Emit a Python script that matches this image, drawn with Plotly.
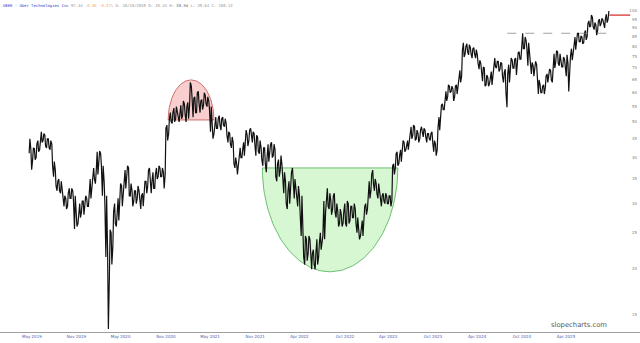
import numpy as np
import pandas as pd
import plotly.graph_objects as go

# ---------------- data (weekly low / high) ----------------
low_2019 = [41.1, 37.1, 39.5, 39.5, 40.0, 41.5, 42.0, 44.0, 44.5, 43.0, 42.5, 42.5, 42.0, 38.0, 35.5, 33.5, 32.5,
            32.5, 32.0, 30.5, 29.5, 29.0, 29.5, 31.0, 31.0, 30.5, 25.6, 26.0, 26.5, 27.5, 28.5, 28.0, 29.5, 29.5]
high_2019 = [45.0, 42.0, 42.5, 42.3, 43.5, 44.5, 45.5, 47.0, 46.5, 46.0, 45.0, 45.0, 44.5, 43.5, 39.0, 37.0, 34.5,
             35.0, 34.5, 32.8, 31.5, 31.0, 32.0, 33.0, 33.0, 32.5, 31.5, 28.0, 28.5, 30.0, 30.5, 30.5, 31.5, 31.0]

low_2020 = [29.5, 31.0, 34.0, 35.0, 34.0, 36.0, 39.5, 38.0, 31.5, 30.0, 21.5, 13.7, 19.0, 20.5, 23.0, 26.5, 26.0,
            27.0, 30.0, 29.5, 32.0, 33.0, 35.0, 31.5, 31.5, 29.5, 30.5, 30.0, 31.0, 31.0, 29.0, 29.5, 32.0, 32.0,
            33.5, 33.5, 32.0, 33.0, 33.0, 35.0, 35.5, 35.5, 35.5, 33.0, 36.0, 44.5, 46.5, 50.0, 49.5, 50.0, 51.0, 50.5]
high_2020 = [31.5, 35.0, 36.5, 37.5, 36.5, 41.5, 41.7, 41.0, 38.0, 34.5, 31.5, 22.0, 25.5, 25.0, 28.5, 30.0, 29.0,
             31.0, 34.0, 33.5, 35.0, 37.0, 38.0, 37.5, 34.0, 32.5, 32.5, 32.5, 33.5, 32.5, 31.5, 32.0, 34.5, 34.5,
             37.0, 37.5, 34.5, 36.5, 36.0, 37.5, 38.0, 37.5, 37.5, 36.5, 48.0, 49.0, 51.0, 53.0, 53.0, 54.5, 55.0, 53.0]

low_2021 = [50.0, 51.0, 52.0, 52.5, 50.0, 51.0, 55.5, 58.0, 51.5, 53.0, 53.0, 56.0, 53.0, 54.0, 55.5, 56.0, 55.0,
            54.0, 47.0, 45.0, 46.5, 48.0, 48.0, 49.0, 47.5, 49.0, 48.5, 46.0, 44.0, 43.5, 42.5, 38.5, 37.5, 36.0,
            38.0, 40.0, 40.0, 40.5, 43.5, 43.0, 44.5, 45.0, 44.0, 43.5, 40.5, 41.5, 41.0, 39.5, 38.0, 38.5, 36.5,
            39.0, 41.5]
high_2021 = [52.5, 55.5, 57.0, 56.0, 55.0, 56.5, 64.0, 62.5, 58.0, 58.5, 60.0, 60.5, 57.0, 57.5, 60.0, 59.0, 58.5,
             57.0, 55.0, 49.0, 49.5, 51.5, 51.0, 52.0, 51.0, 51.5, 51.0, 49.5, 47.0, 46.5, 45.5, 44.0, 40.0, 38.5,
             41.0, 42.5, 42.0, 44.0, 47.5, 46.0, 47.5, 48.0, 47.0, 46.5, 46.0, 45.5, 44.5, 42.5, 42.5, 42.5, 40.0,
             43.5, 43.5]

low_2022 = [40.0, 40.5, 35.5, 34.5, 35.5, 37.0, 34.0, 32.0, 30.0, 29.0, 30.0, 34.0, 34.5, 31.0, 30.5, 29.5, 28.0,
            24.5, 21.5, 20.5, 21.0, 22.0, 21.5, 19.9, 20.5, 19.9, 20.5, 21.5, 22.5, 23.5, 24.0, 28.5, 29.5, 29.0,
            28.0, 29.0, 28.5, 27.5, 26.0, 26.5, 26.0, 26.5, 26.5, 26.0, 26.5, 27.0, 27.5, 27.5, 26.5, 25.0, 24.0,
            24.5]
high_2022 = [44.0, 43.5, 42.0, 38.5, 39.5, 40.5, 38.0, 36.5, 34.5, 32.5, 34.5, 36.5, 37.5, 35.0, 33.0, 33.5, 31.5,
             31.5, 25.5, 24.5, 24.0, 24.5, 24.0, 22.0, 22.5, 22.0, 24.0, 23.5, 25.0, 24.5, 30.5, 31.0, 33.0, 32.0,
             30.5, 31.5, 32.0, 30.0, 28.5, 29.0, 28.0, 28.5, 30.0, 30.5, 30.0, 29.5, 29.5, 30.0, 29.0, 27.5, 26.0,
             25.5]

low_2023 = [24.5, 26.5, 28.0, 29.0, 31.0, 32.5, 34.0, 32.5, 32.0, 31.0, 30.0, 29.5, 30.5, 30.0, 30.0, 30.0, 29.5,
            30.5, 36.0, 37.5, 38.0, 38.5, 39.0, 41.5, 41.5, 42.0, 42.0, 44.0, 45.0, 46.0, 44.5, 45.0, 44.0, 45.0,
            47.0, 45.5, 45.5, 44.0, 45.0, 44.5, 44.0, 41.5, 40.5, 42.0, 47.5, 51.0, 54.0, 54.0, 57.0, 58.5, 60.0,
            60.5]
high_2023 = [27.0, 29.5, 30.0, 31.5, 34.5, 36.0, 37.0, 35.0, 34.0, 34.0, 32.0, 31.5, 32.0, 32.0, 31.5, 31.5, 31.5,
             38.0, 38.5, 41.0, 41.5, 40.5, 42.0, 44.5, 44.0, 43.5, 44.5, 47.0, 48.5, 49.0, 48.5, 47.5, 46.5, 47.5,
             48.5, 48.0, 47.5, 46.5, 46.5, 46.5, 47.0, 44.5, 43.5, 48.0, 51.5, 55.5, 56.0, 58.0, 60.5, 63.0, 62.5,
             62.5]

low_2024 = [57.0, 58.5, 59.5, 62.5, 64.0, 66.5, 75.0, 76.5, 77.5, 76.0, 76.5, 74.5, 76.5, 74.5, 72.0, 69.5, 68.5,
            64.5, 62.5, 63.0, 62.5, 63.5, 63.0, 68.0, 70.5, 70.0, 68.5, 69.5, 66.5, 64.0, 60.0, 54.8, 64.0, 70.0,
            70.0, 70.0, 67.0, 72.5, 74.0, 74.0, 79.0, 79.0, 79.0, 71.0, 70.0, 67.5, 66.5, 70.0, 64.5, 59.5, 60.0,
            60.0]
high_2024 = [61.5, 62.5, 63.0, 67.0, 69.0, 78.0, 82.0, 80.0, 81.5, 81.0, 79.5, 79.0, 79.5, 78.5, 76.0, 73.5, 72.0,
             70.5, 70.0, 67.0, 66.0, 65.5, 68.5, 72.5, 74.5, 73.0, 73.0, 72.5, 72.0, 68.0, 69.5, 67.5, 71.5, 74.5,
             73.5, 74.0, 74.5, 77.0, 77.5, 82.0, 87.0, 85.0, 83.0, 82.0, 75.5, 72.5, 71.0, 73.0, 71.5, 65.0, 63.0,
             62.5]

low_2025 = [59.5, 62.0, 64.0, 66.5, 65.0, 64.0, 70.0, 73.0, 72.0, 71.0, 70.5, 70.5, 71.5, 66.5, 60.5, 71.0, 73.5,
            77.0, 78.5, 82.0, 82.5, 82.5, 81.5, 82.0, 83.5, 85.5, 90.5, 91.0, 90.5, 89.0, 86.0, 88.5, 91.0, 92.5,
            91.5, 90.0, 93.0, 95.0]
high_2025 = [63.0, 66.5, 67.5, 69.5, 69.0, 72.0, 76.5, 78.0, 77.5, 76.5, 74.0, 75.0, 74.0, 76.0, 72.0, 75.5, 79.0,
             81.0, 85.0, 87.0, 87.0, 85.5, 85.0, 87.0, 88.5, 92.5, 94.0, 97.5, 96.0, 93.0, 91.5, 94.0, 95.0, 95.5,
             94.5, 95.0, 98.0, 100.0]

year_starts = ["2019-05-10", "2020-01-03", "2021-01-01", "2022-01-07", "2023-01-06", "2024-01-05", "2025-01-03"]
lows = [low_2019, low_2020, low_2021, low_2022, low_2023, low_2024, low_2025]
highs = [high_2019, high_2020, high_2021, high_2022, high_2023, high_2024, high_2025]

last_price = 97.44
resistance_level = 87.0

y_tick_values = [15, 20, 25, 30, 35, 40, 45, 50, 55, 60, 65, 70, 75, 80, 85, 90, 95, 100]
x_tick_dates = ["2019-05-18", "2019-11-13", "2020-05-08", "2020-11-06", "2021-05-02", "2021-10-30",
                "2022-04-26", "2022-10-26", "2023-04-17", "2023-10-14", "2024-04-08", "2024-10-05", "2025-03-31"]
x_tick_labels = ["May 2019", "Nov 2019", "May 2020", "Nov 2020", "May 2021", "Nov 2021", "Apr 2022",
                 "Oct 2022", "Apr 2023", "Oct 2023", "Apr 2024", "Oct 2024", "Apr 2025"]

# ---------------- build price path ----------------
px_x, px_y = [], []
k = 0
for start, lo, hi in zip(year_starts, lows, highs):
    dates = pd.date_range(start, periods=len(lo), freq="W-FRI")
    for d, l, h in zip(dates, lo, hi):
        px_x += [d - pd.Timedelta(days=3), d]
        px_y += [l, h] if k % 2 == 0 else [h, l]
        k += 1
last_date = px_x[-1]


def dome(start, end, base, peak, n=90):
    t0 = pd.Timestamp(start).value
    t1 = pd.Timestamp(end).value
    c, r = (t0 + t1) / 2, (t1 - t0) / 2
    th = np.linspace(0, np.pi, n)
    xs = pd.to_datetime(c + r * np.cos(th))
    ly = np.log10(base) + (np.log10(peak) - np.log10(base)) * np.sin(th)
    return list(xs) + [xs[0]], list(10 ** ly) + [base]


fig = go.Figure()

rx, ry = dome("2020-11-15", "2021-05-18", 50.6, 65.0)
fig.add_trace(go.Scatter(x=rx, y=ry, mode="lines", fill="toself", fillcolor="rgba(245,190,190,0.75)",
                         line=dict(color="#c0504d", width=0.8), hoverinfo="skip", showlegend=False))
gx, gy = dome("2021-11-28", "2023-05-26", 37.5, 19.6)
fig.add_trace(go.Scatter(x=gx, y=gy, mode="lines", fill="toself", fillcolor="rgba(205,245,200,0.8)",
                         line=dict(color="#4caf50", width=0.8), hoverinfo="skip", showlegend=False))

fig.add_trace(go.Scatter(x=px_x, y=px_y, mode="lines", line=dict(color="#111111", width=1.2),
                         showlegend=False, hoverinfo="skip"))

fig.add_trace(go.Scatter(x=[pd.Timestamp("2024-08-07"), pd.Timestamp("2025-09-28")],
                         y=[resistance_level, resistance_level], mode="lines",
                         line=dict(color="#8a8a8a", width=0.8, dash="dash"), showlegend=False))
fig.add_trace(go.Scatter(x=[last_date + pd.Timedelta(days=2), pd.Timestamp("2025-12-14")],
                         y=[last_price, last_price], mode="lines",
                         line=dict(color="#e05a5a", width=1.6), showlegend=False))

fig.update_layout(
    width=640, height=343,
    margin=dict(l=0, r=0, t=0, b=11),
    paper_bgcolor="white", plot_bgcolor="white",
    showlegend=False,
    xaxis=dict(type="date", range=["2019-01-10", "2026-01-22"], showgrid=False, zeroline=False,
               showline=True, linecolor="#a0a0a0", linewidth=1,
               tickmode="array", tickvals=x_tick_dates, ticktext=x_tick_labels, ticks="",
               tickfont=dict(size=4, color="#4a5ab0", family="DejaVu Sans")),
    yaxis=dict(type="log", range=[np.log10(13.45), np.log10(107.1)], side="right",
               ticklabelposition="inside", showgrid=False, zeroline=False, showline=False,
               tickmode="array", tickvals=y_tick_values, ticktext=[str(v) for v in y_tick_values],
               ticks="", tickfont=dict(size=4, color="#808080", family="DejaVu Sans")),
    font=dict(family="DejaVu Sans"),
)

title = ("<span style='color:#3040c8'>UBER - Uber Technologies Inc</span> "
         "<span style='color:#909090'>97.44</span> "
         "<span style='color:#f0a070'>-0.36 -0.37%</span> "
         "<span style='color:#909090'>D: 10/10/2019 O: 33.45 H: <b>38.94</b> L: 29.64 C: 100.12</span>")
fig.add_annotation(text=title, x=0.002, y=1, xref="paper", yref="paper", xanchor="left", yanchor="top",
                   yshift=-1, showarrow=False, font=dict(size=3.9, family="DejaVu Sans Mono"), align="left")
fig.add_annotation(text="<span style='color:#555555'>slopecharts.com</span>", x=0.951, y=0.0,
                   xref="paper", yref="paper", xanchor="right",
                   yanchor="bottom", yshift=1, showarrow=False,
                   font=dict(size=6.8, color="#555555", family="DejaVu Sans"))

fig.write_html("out.html")
